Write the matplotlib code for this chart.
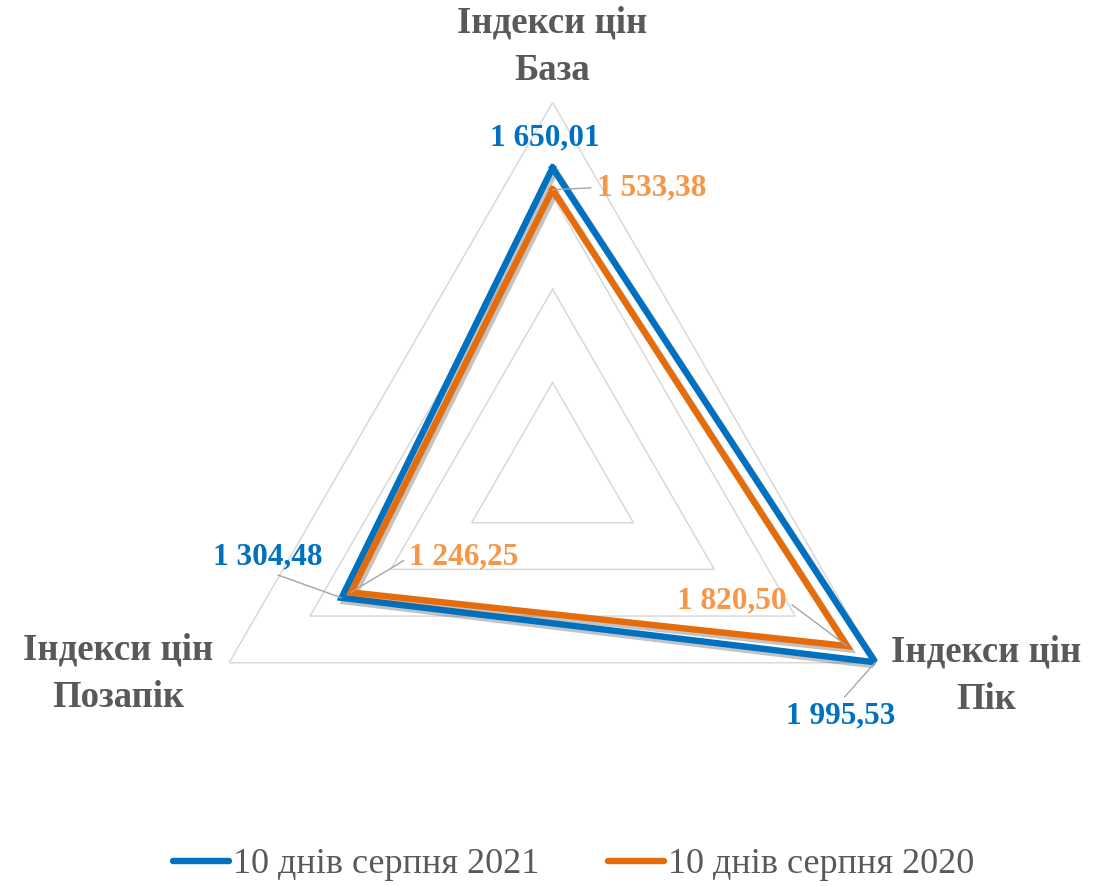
import matplotlib
matplotlib.use("Agg")
import matplotlib.pyplot as plt
import matplotlib.patheffects as pe
import numpy as np

# categories clockwise from the top
categories = ["Індекси цін\nБаза", "Індекси цін\nПік", "Індекси цін\nПозапік"]
series_names = ["10 днів серпня 2021", "10 днів серпня 2020"]
values_2021 = [1650.01, 1995.53, 1304.48]
values_2020 = [1533.38, 1820.50, 1246.25]
labels_2021 = ["1 650,01", "1 995,53", "1 304,48"]
labels_2020 = ["1 533,38", "1 820,50", "1 246,25"]
grid_levels = [500, 1000, 1500, 2000]
r_max = 2000

plt.rcParams['font.family'] = ['Liberation Serif', 'DejaVu Serif']

blue = "#0070C0"
orange = "#E46C0A"
orange_lbl = "#F79646"
grey_txt = "#595959"

fig = plt.figure(figsize=(11.12, 8.86), dpi=100)
ax = fig.add_axes([0.161, 0.0412, 0.6718, 0.8431], projection="polar")
ax.set_theta_offset(np.pi / 2)
ax.set_theta_direction(-1)
ax.set_ylim(0, r_max)
ax.grid(False)
ax.set_xticks([])
ax.set_yticks([])
ax.spines["polar"].set_visible(False)
ax.patch.set_visible(False)

theta = np.arange(len(categories)) * 2 * np.pi / len(categories)
theta_c = np.append(theta, theta[0])

# grid triangles
for lvl in grid_levels:
    ax.plot(theta_c, [lvl] * len(theta_c), color="#D9D9D9", lw=1.1, zorder=1)

shadow = [pe.SimpleLineShadow(offset=(2, -2.5), shadow_color="#555555", alpha=0.35), pe.Normal()]
for vals, col, name in [(values_2021, blue, series_names[0]), (values_2020, orange, series_names[1])]:
    v = np.append(vals, vals[0])
    ax.plot(theta_c, v, color=col, lw=4.6, solid_joinstyle="miter", label=name,
            path_effects=shadow, zorder=3)

lbl_font = dict(fontsize=22.5, fontweight="bold")
leader = dict(arrowstyle="-", color="#A6A6A6", lw=1.0, shrinkA=2, shrinkB=0)

# 2021 labels: offsets in pixels from the point
off_2021 = [(-8, 30), (-35, -54), (-74, 41)]
rel_2021 = [None, (0.5, 1.0), (0.5, 0.0)]
for i in range(3):
    ap = None if rel_2021[i] is None else dict(leader, relpos=rel_2021[i])
    ax.annotate(labels_2021[i], xy=(theta[i], values_2021[i]), xytext=off_2021[i],
                textcoords="offset pixels", ha="center", va="center", color=blue,
                arrowprops=ap, zorder=5, **lbl_font)

off_2020 = [(44, 2), (-60, 45), (58, 35)]
ha_2020 = ["left", "right", "left"]
rel_2020 = [(0, 0.5), (1, 0.5), (0, 0.5)]
for i in range(3):
    ax.annotate(labels_2020[i], xy=(theta[i], values_2020[i]), xytext=off_2020[i],
                textcoords="offset pixels", ha=ha_2020[i], va="center", color=orange_lbl,
                arrowprops=dict(leader, relpos=rel_2020[i]), zorder=5, **lbl_font)

# category labels around the outer triangle
cat_off = [(0, 56), (110, -13), (-111, -11)]
for i in range(3):
    ax.annotate(categories[i], xy=(theta[i], r_max), xytext=cat_off[i],
                textcoords="offset pixels", ha="center", va="center", color=grey_txt,
                fontsize=26.5, fontweight="bold", linespacing=1.45, annotation_clip=False)

leg = fig.legend(loc="center", bbox_to_anchor=(0.516, 0.024), ncol=2, frameon=False,
                 fontsize=26, handlelength=1.55, handletextpad=0.12, columnspacing=1.9)
for t in leg.get_texts():
    t.set_color(grey_txt)
for h in leg.get_lines():
    h.set_path_effects([])
    h.set_linewidth(4.6)
    h.set_solid_capstyle("round")

fig.savefig("out.png", dpi=100)
